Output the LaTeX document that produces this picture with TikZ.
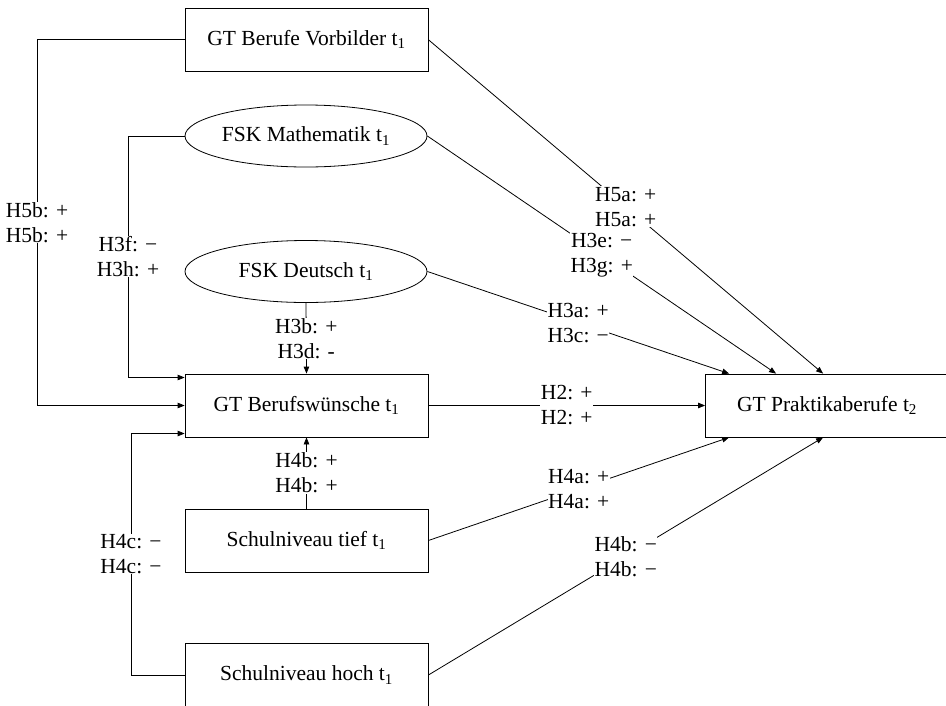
\documentclass[tikz,border=0pt]{standalone}
\usepackage{fontspec}
\setmainfont{Liberation Serif}
\usetikzlibrary{arrows.meta,shapes.geometric}
\begin{document}
\begin{tikzpicture}[x=1pt,y=-1pt,
  every node/.style={font=\fontsize{21.5}{25}\selectfont},
  box/.style={draw, line width=0.8pt, minimum width=243pt, minimum height=63pt, inner sep=0pt},
  ell/.style={draw, ellipse, line width=0.8pt, minimum width=242pt, minimum height=62pt, inner sep=0pt},
  conn/.style={line width=0.8pt},
  arr/.style={conn, -{Triangle[length=7pt,width=5.5pt]}},
  lbl/.style={fill=white, inner sep=0.5pt, align=center, midway}]
\useasboundingbox (0,0) rectangle (946,705);

\node[box] (vorb)  at (306.5,39.7)  {GT Berufe Vorbilder t\textsubscript{1}};
\node[ell] (math)  at (306,136)     {FSK Mathematik t\textsubscript{1}};
\node[ell] (deut)  at (306,271.5)   {FSK Deutsch t\textsubscript{1}};
\node[box] (beruf) at (306.5,405.5) {GT Berufswünsche t\textsubscript{1}};
\node[box] (tief)  at (306.5,540.5) {Schulniveau tief t\textsubscript{1}};
\node[box] (hoch)  at (306.5,675)   {Schulniveau hoch t\textsubscript{1}};
\node[box] (prak)  at (827,405.5)   {GT Praktikaberufe t\textsubscript{2}};

\coordinate (xA) at (37,0);
\coordinate (xB) at (128,0);
\coordinate (xC) at (131,0);
\coordinate (bw1) at ([yshift=28pt]beruf.west);
\coordinate (bw3) at ([yshift=-28pt]beruf.west);
\coordinate (pt1) at ([xshift=24pt]prak.north west);
\coordinate (pt2) at ([xshift=71pt]prak.north west);
\coordinate (pt3) at ([xshift=118pt]prak.north west);
\coordinate (pb1) at ([xshift=24pt]prak.south west);
\coordinate (pb3) at ([xshift=118pt]prak.south west);

\draw[arr] (vorb.west) -- (vorb.west -| xA) -- node[lbl]{H5b: +\\H5b: +} (beruf.west -| xA) -- (beruf.west);
\draw[arr] (math.west) -- (math.west -| xB) -- node[lbl]{H3f: −\\H3h: +} (bw1 -| xB) -- (bw1);
\draw[arr] (hoch.west) -- (hoch.west -| xC) -- node[lbl]{H4c: −\\H4c: −} (bw3 -| xC) -- (bw3);
\draw[arr] (deut.south) -- node[lbl]{H3b: +\\H3d: -} (beruf.north);
\draw[arr] (tief.north) -- node[lbl]{H4b: +\\H4b: +} (beruf.south);

\draw[arr] (vorb.east) -- node[lbl]{H5a: +\\H5a: +} (pt3);
\draw[arr] (math.east) -- node[lbl]{H3e: −\\H3g: +} (pt2);
\draw[arr] (deut.east) -- node[lbl]{H3a: +\\H3c: −} (pt1);
\draw[arr] (beruf.east) -- node[lbl]{H2: +\\H2: +} (prak.west);
\draw[arr] (tief.east) -- node[lbl]{H4a: +\\H4a: +} (pb1);
\draw[arr] (hoch.east) -- node[lbl]{H4b: −\\H4b: −} (pb3);
\end{tikzpicture}
\end{document}
